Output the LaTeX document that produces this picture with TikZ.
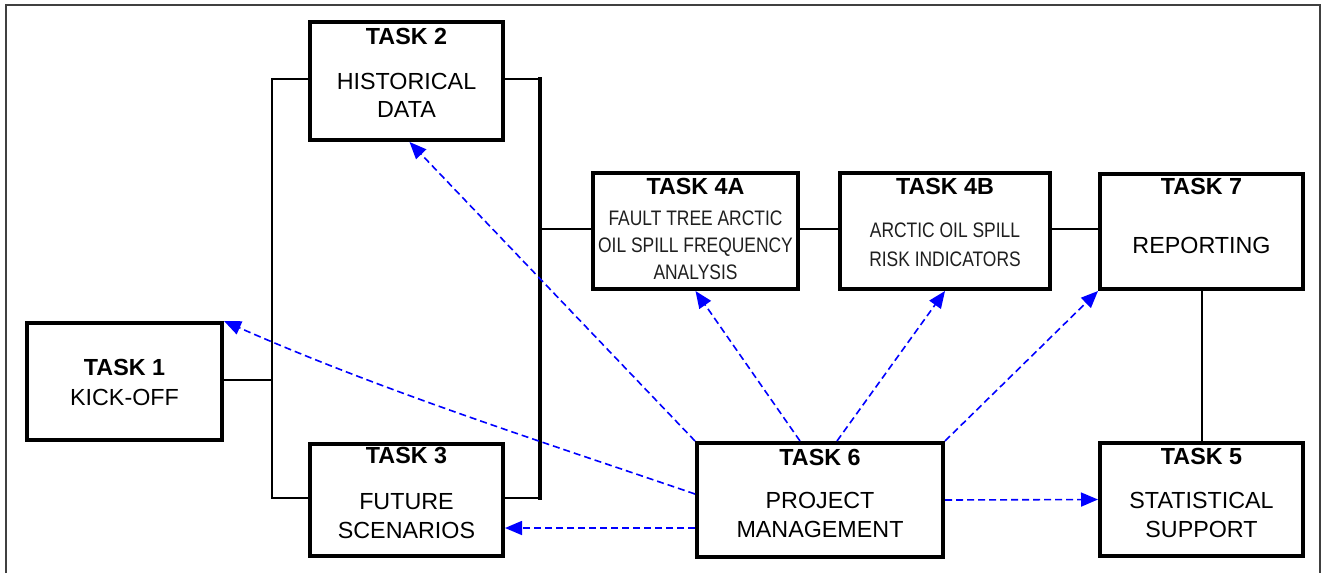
\documentclass[tikz,border=0pt]{standalone}
\usepackage{fontspec}
\setmainfont{Liberation Sans}
\newfontfamily\narrowfont[FakeStretch=0.83]{Liberation Sans}
\usetikzlibrary{arrows.meta}
\tikzset{
  box/.style={draw, line width=4pt, rectangle, inner sep=0pt},
  ttl/.style={font=\fontsize{23.3}{28}\selectfont\bfseries, anchor=base, inner sep=0pt},
  txt/.style={font=\fontsize{23.3}{28}\selectfont, anchor=base, inner sep=0pt},
  ntxt/.style={font=\narrowfont\fontsize{21}{26}\selectfont, anchor=base, inner sep=0pt, text=black!88},
  conn/.style={line width=2pt},
  pm/.style={blue, dash pattern=on 7pt off 4pt, line width=1.6pt, -{Triangle[length=17pt,width=14pt]}}
}
\begin{document}
\begin{tikzpicture}[x=1pt, y=-1pt]
\useasboundingbox (0,0) rectangle (1325,573);
\draw[line width=1.5pt, black!75] (6,573) -- (6,5) -- (1320,5) -- (1320,573);

% boxes
\node[box, minimum width=195pt, minimum height=117pt] (t1) at (124.5,381.5) {};
\node[box, minimum width=193pt, minimum height=118pt] (t2) at (406.5,81) {};
\node[box, minimum width=193pt, minimum height=112pt] (t3) at (406.5,500) {};
\node[box, minimum width=205pt, minimum height=116pt] (t4a) at (695.5,231) {};
\node[box, minimum width=210pt, minimum height=116pt] (t4b) at (945,231) {};
\node[box, minimum width=203pt, minimum height=115pt] (t7) at (1201.5,231.5) {};
\node[box, minimum width=246pt, minimum height=114pt] (t6) at (820,500) {};
\node[box, minimum width=203pt, minimum height=113pt] (t5) at (1201.5,499.5) {};

% texts
\node[ttl] (t1a) at (124.5,375) {TASK 1};
\node[txt] (t1b) at (124.5,405) {KICK-OFF};

\node[ttl] (t2a) at (406.5,44) {TASK 2};
\node[txt] (t2b) at (406.5,89) {HISTORICAL};
\node[txt] (t2c) at (406.5,117.5) {DATA};

\node[ttl] (t3a) at (406.5,463.5) {TASK 3};
\node[txt] (t3b) at (406.5,509) {FUTURE};
\node[txt] (t3c) at (406.5,538) {SCENARIOS};

\node[ttl] (t4aa) at (695.5,194.5) {TASK 4A};
\node[ntxt] (t4ab) at (695.5,225) {FAULT TREE ARCTIC};
\node[ntxt] (t4ac) at (695.5,252) {OIL SPILL FREQUENCY};
\node[ntxt] (t4ad) at (695.5,279) {ANALYSIS};

\node[ttl] (t4ba) at (945,194.5) {TASK 4B};
\node[ntxt] (t4bb) at (945,237.5) {ARCTIC OIL SPILL};
\node[ntxt] (t4bc) at (945,266.5) {RISK INDICATORS};

\node[ttl] (t7a) at (1201.5,194.5) {TASK 7};
\node[txt] (t7b) at (1201.5,253) {REPORTING};

\node[ttl] (t6a) at (820,465) {TASK 6};
\node[txt] (t6b) at (820,508.5) {PROJECT};
\node[txt] (t6c) at (820,537) {MANAGEMENT};

\node[ttl] (t5a) at (1201.5,464.5) {TASK 5};
\node[txt] (t5b) at (1201.5,508.5) {STATISTICAL};
\node[txt] (t5c) at (1201.5,537) {SUPPORT};

% black connectors
\coordinate (lt) at (272,79);
\coordinate (lb) at (272,498);
\coordinate (lm) at (272,380);
\coordinate (rt) at (540,79);
\coordinate (rb) at (540,498);
\coordinate (rm) at (540,229);

\draw[conn] (t2.west |- lt) -- (lt) -- (lb) -- (t3.west |- lb);
\draw[conn] (t1.east |- lm) -- (lm);
\draw[conn] (t2.east |- rt) -- (rt);
\draw[conn] (t3.east |- rb) -- (rb);
\draw[line width=4pt, line cap=rect] (rt) -- (rb);
\draw[conn] (rm) -- (t4a.west |- rm);
\draw[conn] (t4a.east |- rm) -- (t4b.west |- rm);
\draw[conn] (t4b.east |- rm) -- (t7.west |- rm);
\draw[conn] (t7.south) -- (t5.north);

% blue dashed arrows from Task 6
\draw[pm] (t6.north west) -- ([xshift=3pt]t2.south);
\draw[pm] ([yshift=6pt]t6.west) .. controls (540,441) and (380,390) .. (t1.north east);
\draw[pm] ([yshift=-28pt]t6.west) -- ([yshift=-28pt]t3.east);
\draw[pm] ([xshift=-20pt]t6.north) -- (t4a.south);
\draw[pm] ([xshift=17pt]t6.north) -- (t4b.south);
\draw[pm] (t6.north east) -- (t7.south west);
\draw[pm] (t6.east) -- (t5.west);
\end{tikzpicture}
\end{document}
